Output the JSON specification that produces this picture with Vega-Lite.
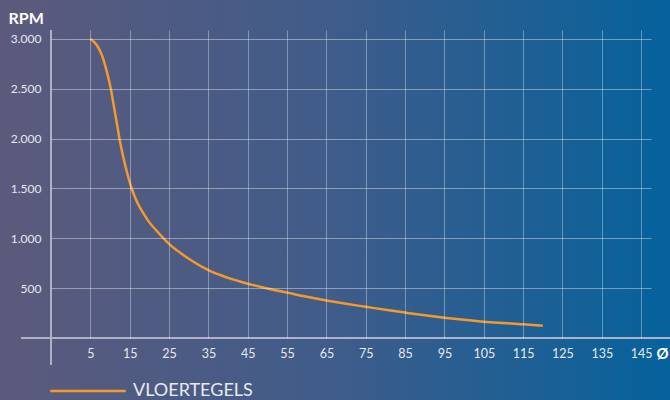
{
  "$schema": "https://vega.github.io/schema/vega-lite/v6.json",
  "width": 600,
  "height": 308,
  "autosize": {"type": "none"},
  "padding": {"left": 51, "top": 30, "right": 19, "bottom": 62},
  "background": "#3a5d8c",
  "config": {
    "view": {"stroke": null},
    "font": "Lato"
  },
  "data": {
    "values": [
      {"d": 5, "rpm": 3000, "s": "VLOERTEGELS"},
      {"d": 6, "rpm": 2968, "s": "VLOERTEGELS"},
      {"d": 7, "rpm": 2915, "s": "VLOERTEGELS"},
      {"d": 8, "rpm": 2830, "s": "VLOERTEGELS"},
      {"d": 9, "rpm": 2700, "s": "VLOERTEGELS"},
      {"d": 10.2, "rpm": 2500, "s": "VLOERTEGELS"},
      {"d": 11, "rpm": 2320, "s": "VLOERTEGELS"},
      {"d": 12, "rpm": 2095, "s": "VLOERTEGELS"},
      {"d": 12.4, "rpm": 2000, "s": "VLOERTEGELS"},
      {"d": 13, "rpm": 1880, "s": "VLOERTEGELS"},
      {"d": 14, "rpm": 1710, "s": "VLOERTEGELS"},
      {"d": 15.5, "rpm": 1500, "s": "VLOERTEGELS"},
      {"d": 17, "rpm": 1355, "s": "VLOERTEGELS"},
      {"d": 18.5, "rpm": 1250, "s": "VLOERTEGELS"},
      {"d": 20, "rpm": 1160, "s": "VLOERTEGELS"},
      {"d": 22, "rpm": 1070, "s": "VLOERTEGELS"},
      {"d": 23.6, "rpm": 1000, "s": "VLOERTEGELS"},
      {"d": 25, "rpm": 945, "s": "VLOERTEGELS"},
      {"d": 28, "rpm": 850, "s": "VLOERTEGELS"},
      {"d": 31, "rpm": 770, "s": "VLOERTEGELS"},
      {"d": 35, "rpm": 680, "s": "VLOERTEGELS"},
      {"d": 40, "rpm": 603, "s": "VLOERTEGELS"},
      {"d": 45, "rpm": 545, "s": "VLOERTEGELS"},
      {"d": 50, "rpm": 497, "s": "VLOERTEGELS"},
      {"d": 55, "rpm": 455, "s": "VLOERTEGELS"},
      {"d": 60, "rpm": 413, "s": "VLOERTEGELS"},
      {"d": 65, "rpm": 376, "s": "VLOERTEGELS"},
      {"d": 70, "rpm": 343, "s": "VLOERTEGELS"},
      {"d": 75, "rpm": 313, "s": "VLOERTEGELS"},
      {"d": 80, "rpm": 283, "s": "VLOERTEGELS"},
      {"d": 85, "rpm": 255, "s": "VLOERTEGELS"},
      {"d": 90, "rpm": 228, "s": "VLOERTEGELS"},
      {"d": 95, "rpm": 204, "s": "VLOERTEGELS"},
      {"d": 100, "rpm": 183, "s": "VLOERTEGELS"},
      {"d": 105, "rpm": 164, "s": "VLOERTEGELS"},
      {"d": 110, "rpm": 150, "s": "VLOERTEGELS"},
      {"d": 115, "rpm": 137, "s": "VLOERTEGELS"},
      {"d": 120, "rpm": 124, "s": "VLOERTEGELS"}
    ]
  },
  "layer": [
    {
      "mark": {
        "type": "rect",
        "fill": {
          "gradient": "linear",
          "x1": 0, "x2": 1, "y1": 0, "y2": 0,
          "stops": [
            {"offset": 0, "color": "#5c5a7c"},
            {"offset": 0.5, "color": "#3f5c8a"},
            {"offset": 1, "color": "#05629c"}
          ]
        }
      },
      "encoding": {
        "x": {"datum": -17.96, "type": "quantitative"},
        "x2": {"datum": 152.35},
        "y": {"datum": -800, "type": "quantitative"},
        "y2": {"datum": 3600}
      }
    },
    {
      "mark": {"type": "rule", "stroke": "#aeb3c8", "strokeWidth": 1},
      "encoding": {
        "x": {"datum": -5, "type": "quantitative"},
        "y": {"datum": -270, "type": "quantitative"},
        "y2": {"datum": 3090}
      }
    },
    {
      "mark": {"type": "rule", "stroke": "#aeb3c8", "strokeWidth": 1},
      "encoding": {
        "y": {"datum": 0, "type": "quantitative"},
        "x": {"datum": -12.5, "type": "quantitative"},
        "x2": {"datum": 156}
      }
    },
    {
      "mark": {"type": "line", "interpolate": "monotone", "strokeWidth": 2.5},
      "encoding": {
        "x": {
          "field": "d", "type": "quantitative",
          "scale": {"domain": [-5, 147.5], "nice": false, "zero": false},
          "axis": {
            "zindex": 1,
            "values": [5, 15, 25, 35, 45, 55, 65, 75, 85, 95, 105, 115, 125, 135, 145],
            "grid": true, "gridColor": "#ffffff", "gridOpacity": 0.35,
            "domain": false, "ticks": false,
            "labelColor": "#e6e8f0", "labelFontSize": 12.5, "labelPadding": 9,
            "labelFont": "Lato",
            "title": "Ø", "titleColor": "#ffffff", "titleFontSize": 15, "titleFont": "Lato", "titleFontWeight": "bold",
            "titleX": 611, "titleY": 20, "titleAlign": "center", "titleBaseline": "alphabetic", "titleAnchor": null
          }
        },
        "y": {
          "field": "rpm", "type": "quantitative",
          "scale": {"domain": [0, 3090], "nice": false},
          "axis": {
            "zindex": 1,
            "values": [500, 1000, 1500, 2000, 2500, 3000],
            "labelExpr": "replace(format(datum.value, ','), ',', '.')",
            "grid": true, "gridColor": "#ffffff", "gridOpacity": 0.4,
            "domain": false, "ticks": false,
            "labelColor": "#e6e8f0", "labelFontSize": 12, "labelPadding": 10,
            "labelFont": "Lato",
            "title": "RPM", "titleColor": "#ffffff", "titleFontSize": 16, "titleFont": "Lato", "titleFontWeight": "bold",
            "titleAngle": 0, "titleX": -43, "titleY": -7, "titleAlign": "left", "titleBaseline": "alphabetic", "titleAnchor": null
          }
        },
        "color": {
          "field": "s", "type": "nominal",
          "scale": {"range": ["#f39a2b"]},
          "legend": {
            "zindex": 1,
            "orient": "none", "legendX": -2, "legendY": 322,
            "title": null, "padding": 0,
            "symbolType": "stroke", "symbolSize": 5700, "symbolStrokeWidth": 2.5,
            "labelColor": "#e8eaf2", "labelFontSize": 18, "labelFont": "Lato", "labelOffset": 6, "labelLimit": 300
          }
        }
      }
    }
  ]
}
